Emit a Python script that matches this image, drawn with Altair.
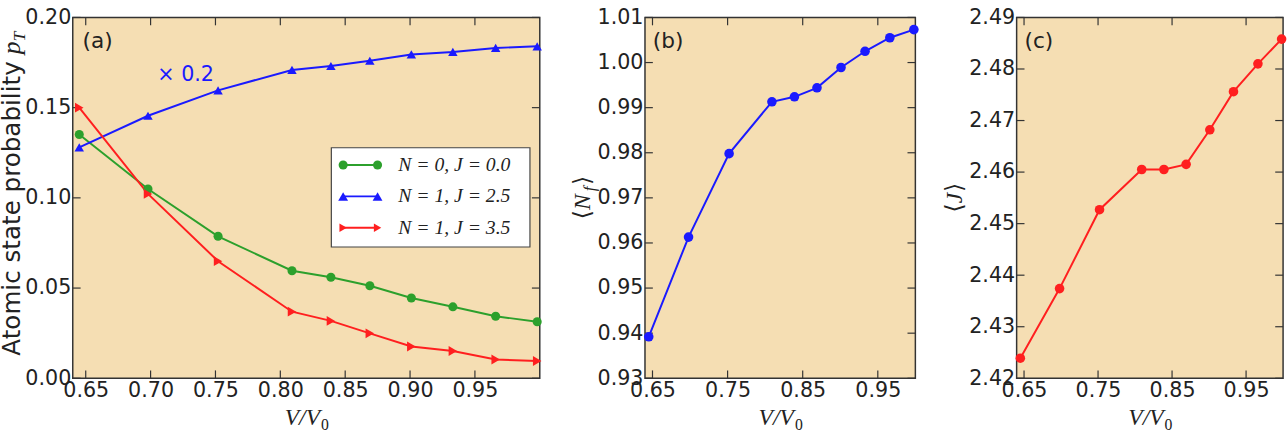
import altair as alt
import pandas as pd

# V/V0 sample points shared by all three panels
V_RATIO = [0.645, 0.698, 0.752, 0.809, 0.839, 0.869, 0.901, 0.933, 0.966, 0.998]

# (a) atomic state probabilities (the N=1, J=2.5 curve is drawn multiplied by 0.2)
P_N0_J00 = [0.1351, 0.1049, 0.0787, 0.0596, 0.0560, 0.0513, 0.0445, 0.0396, 0.0344, 0.0313]
P_N1_J25_X02 = [0.1280, 0.1455, 0.1596, 0.1709, 0.1731, 0.1760, 0.1795, 0.1809, 0.1831, 0.1840]
P_N1_J35 = [0.1500, 0.1022, 0.0649, 0.0369, 0.0318, 0.0249, 0.0176, 0.0151, 0.0104, 0.0096]

# (b) mean f occupation, (c) mean total angular momentum
MEAN_NF = [0.9392, 0.9613, 0.9798, 0.9913, 0.9924, 0.9944, 0.9989, 1.0025, 1.0055, 1.0073]
MEAN_J = [2.4239, 2.4374, 2.4527, 2.4605, 2.4605, 2.4615, 2.4682, 2.4756, 2.4810, 2.4858]

SERIES = ["N = 0,  J = 0.0", "N = 1,  J = 2.5", "N = 1,  J = 3.5"]
COLORS = ["#2ca02c", "#1a1aff", "#ff1f1f"]
SHAPES = ["circle", "triangle-up", "triangle-right"]
SIZES = [85, 100, 75]

X_TICKS_A = [0.65, 0.70, 0.75, 0.80, 0.85, 0.90, 0.95]
X_TICKS_BC = [0.65, 0.75, 0.85, 0.95]
Y_TICKS_A = [0.00, 0.05, 0.10, 0.15, 0.20]
Y_TICKS_B = [0.93, 0.94, 0.95, 0.96, 0.97, 0.98, 0.99, 1.00, 1.01]
Y_TICKS_C = [2.42, 2.43, 2.44, 2.45, 2.46, 2.47, 2.48, 2.49]

X_DOMAIN = [0.64, 1.0]
H = 367
INK = "#222222"
FRAME = "#333333"
SANS = "DejaVu Sans"
SERIF = "Liberation Serif"
ONE = pd.DataFrame({"k": [0]})


def lin(domain):
    return alt.Scale(domain=domain, nice=False, zero=False)


def make_axis(values):
    return alt.Axis(values=values, format=".2f", ticks=False, tickSize=0, domain=False,
                    grid=False, labelFont=SANS, labelFontSize=21, labelColor=INK,
                    labelPadding=2, labelFlush=False, labelOverlap=False)


def note(text, x, y, **kw):
    style = dict(font=SANS, fontSize=21, color=INK, align="left", baseline="alphabetic")
    style.update(kw)
    return alt.Chart(ONE).mark_text(text=text, **style).encode(x=alt.value(x), y=alt.value(y))


def frame_ticks(w, X, Y, xticks, yticks, n=8):
    xt = pd.DataFrame({"t": xticks})
    yt = pd.DataFrame({"t": yticks})
    rule = dict(color=FRAME, strokeWidth=1.2)
    return [
        alt.Chart(xt).mark_rule(**rule).encode(x=X("t"), y=alt.value(H), y2=alt.value(H - n)),
        alt.Chart(xt).mark_rule(**rule).encode(x=X("t"), y=alt.value(0), y2=alt.value(n)),
        alt.Chart(yt).mark_rule(**rule).encode(y=Y("t"), x=alt.value(0), x2=alt.value(n)),
        alt.Chart(yt).mark_rule(**rule).encode(y=Y("t"), x=alt.value(w), x2=alt.value(w - n)),
    ]


def x_title(w):
    c = w / 2
    return [
        note("V/V", c + 14, H + 48, font=SERIF, fontStyle="italic", fontSize=24, align="right"),
        note("0", c + 15, H + 53, font=SERIF, fontSize=16),
    ]


def encoders(w, ydom, xticks, yticks):
    xs, ys = lin(X_DOMAIN), lin(ydom)
    ax, ay = make_axis(xticks), make_axis(yticks)

    def X(f):
        return alt.X(f"{f}:Q", scale=xs, axis=ax, title=None)

    def Y(f):
        return alt.Y(f"{f}:Q", scale=ys, axis=ay, title=None)

    return X, Y


# ---------------- panel (a) ----------------
WA = 475
XA, YA = encoders(WA, [0.0, 0.2], X_TICKS_A, Y_TICKS_A)
df_a = pd.DataFrame({
    "v": V_RATIO * 3,
    "p": P_N0_J00 + P_N1_J25_X02 + P_N1_J35,
    "series": [s for s in SERIES for _ in V_RATIO],
})
color_a = alt.Color("series:N", scale=alt.Scale(domain=SERIES, range=COLORS), legend=None)
lines_a = alt.Chart(df_a).mark_line(strokeWidth=2).encode(x=XA("v"), y=YA("p"), color=color_a)
points_a = alt.Chart(df_a).mark_point(filled=True, opacity=1).encode(
    x=XA("v"), y=YA("p"), color=color_a,
    shape=alt.Shape("series:N", scale=alt.Scale(domain=SERIES, range=SHAPES), legend=None),
    size=alt.Size("series:N", scale=alt.Scale(domain=SERIES, range=SIZES), legend=None),
)

legend_layers = [
    alt.Chart(ONE).mark_rect(fill="white", stroke="#444444", strokeWidth=1.2).encode(
        x=alt.value(263), x2=alt.value(465), y=alt.value(132.5), y2=alt.value(233.5))
]
for i, (lab, col, shp, sz) in enumerate(zip(SERIES, COLORS, SHAPES, SIZES)):
    yr = 150 + 32 * i
    legend_layers.append(alt.Chart(ONE).mark_rule(color=col, strokeWidth=2).encode(
        x=alt.value(275), x2=alt.value(310), y=alt.value(yr)))
    for xe in (275, 310):
        legend_layers.append(alt.Chart(ONE).mark_point(
            shape=shp, filled=True, size=sz, color=col, opacity=1).encode(
            x=alt.value(xe), y=alt.value(yr)))
    legend_layers.append(note(lab, 331, yr, font=SERIF, fontStyle="italic", fontSize=20,
                              baseline="middle"))

ytitle_a = [
    note("Atomic state probability", -54, 344, fontSize=25, angle=270),
    note("p", -54, 37.5, font=SERIF, fontStyle="italic", fontSize=26, angle=270),
    note("T", -49, 24.5, font=SERIF, fontStyle="italic", fontSize=18, angle=270),
]

panel_a = alt.layer(
    *frame_ticks(WA, XA, YA, X_TICKS_A, Y_TICKS_A),
    lines_a, points_a,
    *legend_layers,
    note("(a)", 10, 31, fontSize=22),
    note("\u00d7 0.2", 86, 65, color="#1a1aff"),
    *ytitle_a,
    *x_title(WA),
).properties(width=WA, height=H)


# ---------------- panels (b) and (c) ----------------
def single_panel(w, values, ydom, yticks, color, letter, title_parts):
    X, Y = encoders(w, ydom, X_TICKS_BC, yticks)
    df = pd.DataFrame({"v": V_RATIO, "val": values})
    line = alt.Chart(df).mark_line(strokeWidth=2, color=color).encode(x=X("v"), y=Y("val"))
    pts = alt.Chart(df).mark_point(filled=True, opacity=1, size=95, color=color,
                                   shape="circle").encode(x=X("v"), y=Y("val"))
    return alt.layer(
        *frame_ticks(w, X, Y, X_TICKS_BC, yticks),
        line, pts,
        note(letter, 8, 31, fontSize=22),
        *title_parts,
        *x_title(w),
    ).properties(width=w, height=H)


TX = -56
title_b = [
    note("\u27e8", TX, 205.3, fontSize=24, angle=270),
    note("N", TX, 195.9, font=SERIF, fontStyle="italic", fontSize=24, angle=270),
    note("f", TX + 5, 176.9, font=SERIF, fontStyle="italic", fontSize=17, angle=270),
    note("\u27e9", TX, 170.5, fontSize=24, angle=270),
]
title_c = [
    note("\u27e8", TX, 198.5, fontSize=24, angle=270),
    note("J", TX, 189.1, font=SERIF, fontStyle="italic", fontSize=24, angle=270),
    note("\u27e9", TX, 177.5, fontSize=24, angle=270),
]

panel_b = single_panel(275, MEAN_NF, [0.93, 1.01], Y_TICKS_B, "#1a1aff", "(b)", title_b)
panel_c = single_panel(271, MEAN_J, [2.42, 2.49], Y_TICKS_C, "#ff1f1f", "(c)", title_c)

chart = alt.hconcat(
    panel_a,
    alt.hconcat(panel_b, panel_c, spacing=22),
    spacing=28,
).properties(
    padding={"left": -2, "top": 2, "right": 0, "bottom": 0},
    background="white",
).configure_view(fill="#f5deb3", stroke=FRAME, strokeWidth=1.5)

chart.save("out.html", embed_options={"renderer": "svg", "actions": False})
